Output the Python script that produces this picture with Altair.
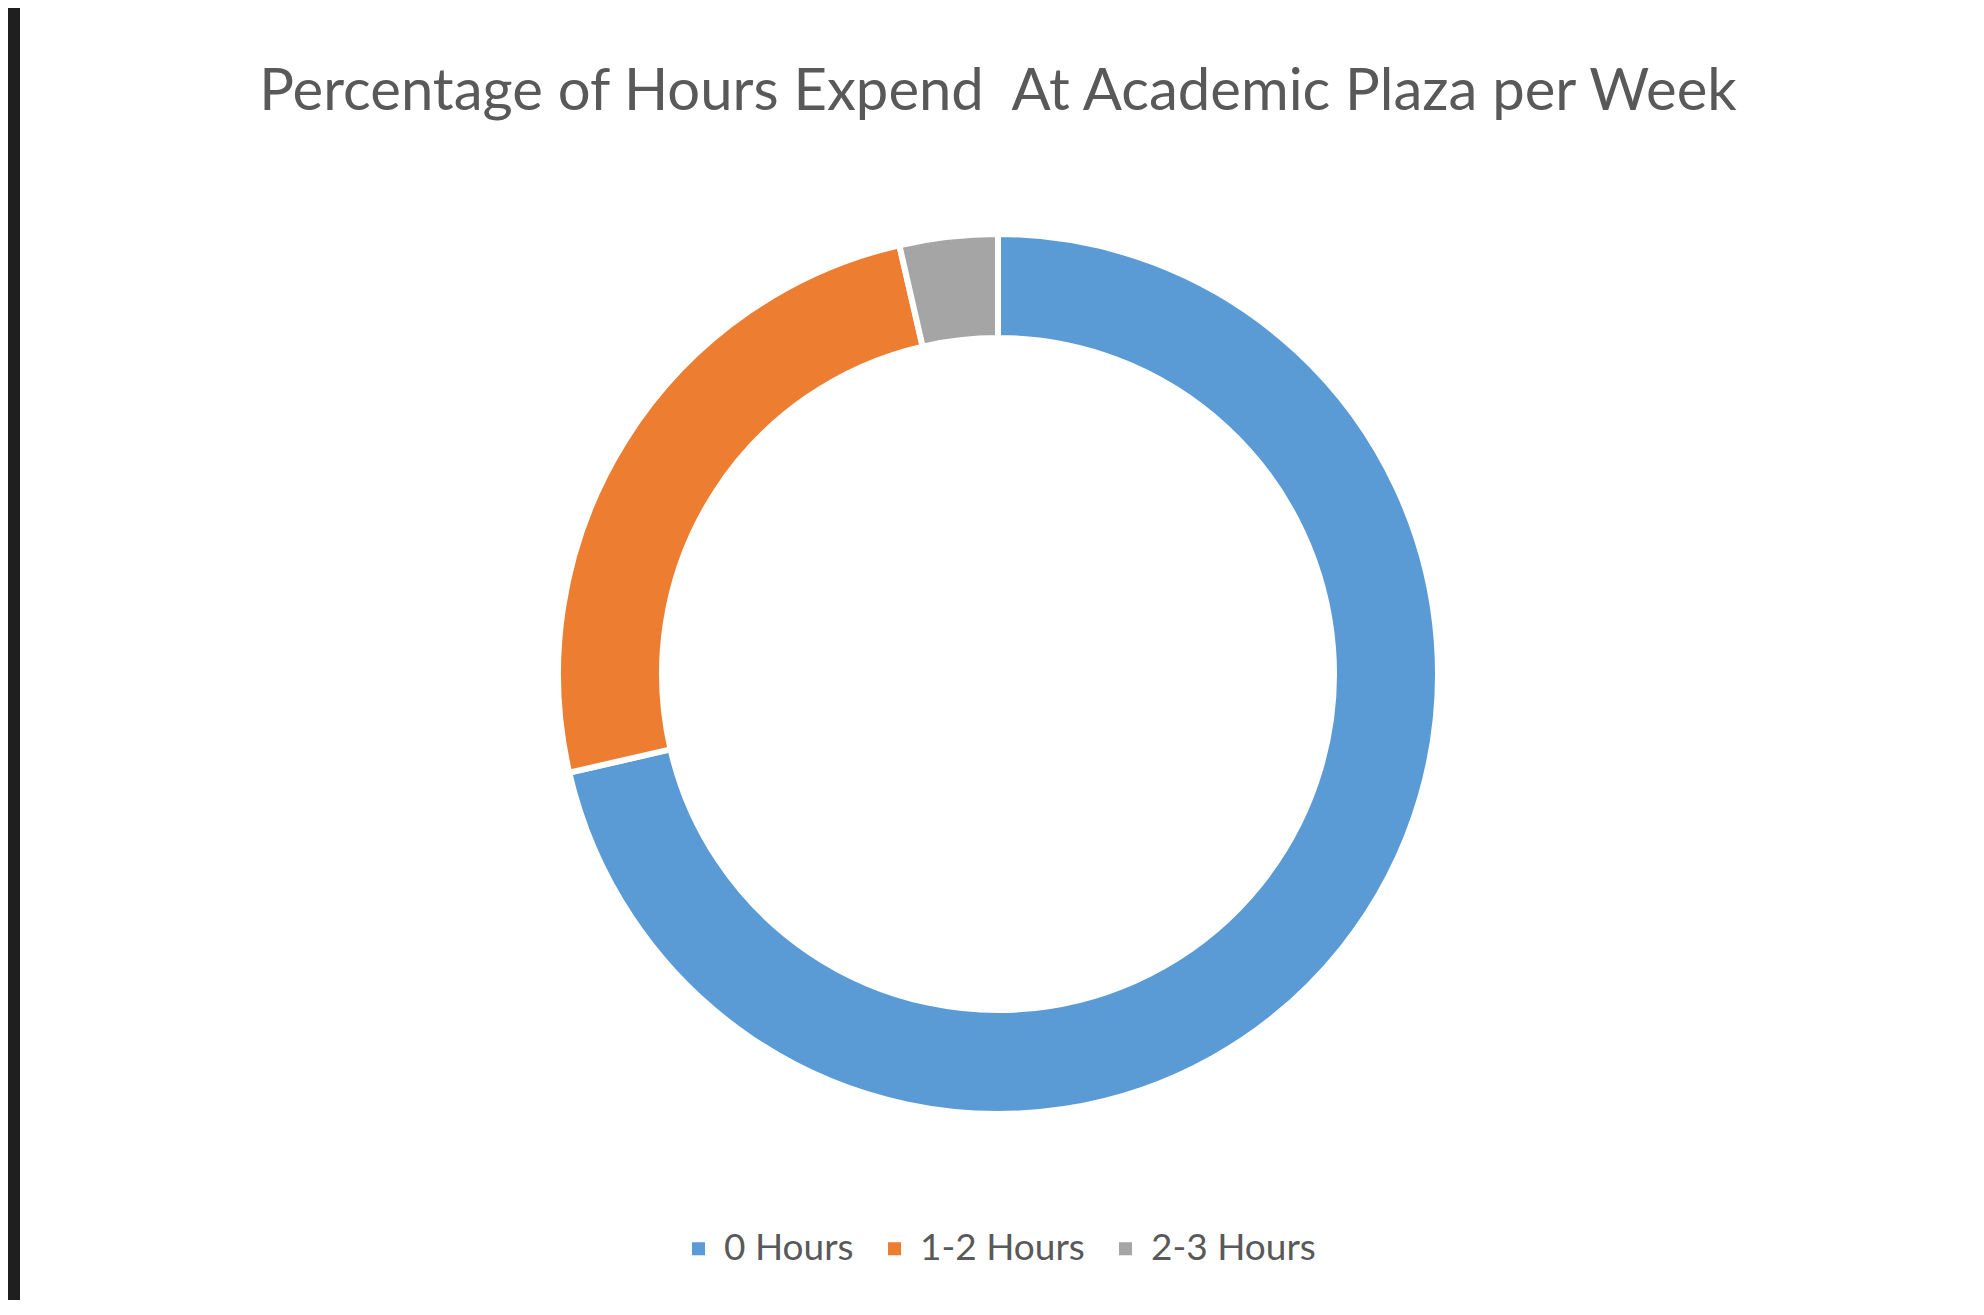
import altair as alt
import pandas as pd

categories = ["0 Hours", "1-2 Hours", "2-3 Hours"]
percentages = [71.4, 25.0, 3.6]
slice_order = [0, 1, 2]
colors = ["#5B9BD5", "#ED7D31", "#A5A5A5"]

title_text = "Percentage of Hours Expend\u00a0 At Academic Plaza per Week"

df = pd.DataFrame({"category": categories, "percent": percentages, "order": slice_order})

W = 1956
H = 1292
FONT = "Lato"

chart = (
    alt.Chart(
        df,
        title=alt.TitleParams(
            text=title_text,
            font=FONT,
            fontSize=58,
            fontWeight="normal",
            color="#595959",
            anchor="middle",
            frame="group",
            orient="top",
            baseline="alphabetic",
            offset=-160,
        ),
    )
    .mark_arc(outerRadius=440, innerRadius=336, stroke="white", strokeWidth=6)
    .encode(
        theta=alt.Theta("percent:Q", stack=True),
        order=alt.Order("order:Q"),
        color=alt.Color(
            "category:N",
            scale=alt.Scale(domain=categories, range=colors),
            legend=alt.Legend(
                title=None,
                orient="none",
                legendX=660,
                legendY=1222,
                direction="horizontal",
                symbolType="square",
                symbolSize=170,
                symbolStrokeWidth=0,
                labelFont=FONT,
                labelFontSize=37,
                labelColor="#595959",
                labelLimit=0,
                columnPadding=22,
                labelOffset=7,
            ),
        ),
        y=alt.value(666),
    )
    .properties(
        width=W,
        height=H,
        padding={"left": 12, "top": 0, "right": 0, "bottom": 0},
        autosize=alt.AutoSizeParams(type="none"),
        background="#1f1f1f",
    )
    .configure_view(fill="white", strokeWidth=0)
)

chart.save("out.html", embed_options={"renderer": "svg", "actions": False})
